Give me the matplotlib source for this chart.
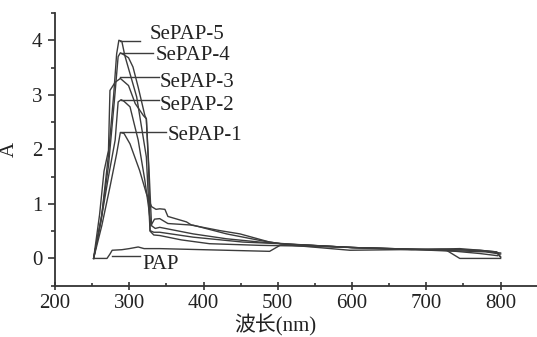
import matplotlib
matplotlib.use("Agg")
import matplotlib.pyplot as plt
from matplotlib.ticker import MultipleLocator

plt.rcParams['font.family'] = ['Liberation Serif', 'Noto Sans CJK SC']

# UV-Vis absorption spectra (wavelength in nm, absorbance A)
wl_pap = [252, 270, 274, 277, 290, 300, 312, 320, 341, 400, 489, 503, 530, 600, 680, 727, 745, 800]
a_pap = [0.0, 0.0, 0.08, 0.15, 0.16, 0.18, 0.21, 0.18, 0.18, 0.16, 0.13, 0.24, 0.25, 0.20, 0.17, 0.15, 0.0, 0.0]

wl_s1 = [252, 263, 274, 283, 288, 293, 301, 314, 323, 330, 336, 341, 348, 352, 377, 384,
         422, 449, 489, 520, 597, 660, 720, 772, 794, 800]
a_s1 = [0.0, 0.60, 1.31, 1.92, 2.31, 2.29, 2.10, 1.61, 1.19, 0.95, 0.90, 0.91, 0.90, 0.77, 0.67, 0.61,
        0.51, 0.45, 0.30, 0.24, 0.15, 0.16, 0.17, 0.15, 0.12, 0.02]

wl_s2 = [252, 262, 272, 281, 285, 289, 293, 301, 312, 321, 326, 329, 334, 341, 352, 386,
         431, 476, 503, 530, 600, 670, 740, 772, 796]
a_s2 = [0.0, 0.70, 1.50, 2.17, 2.87, 2.91, 2.88, 2.78, 2.17, 1.43, 0.94, 0.60, 0.72, 0.73, 0.64, 0.61,
        0.45, 0.33, 0.27, 0.25, 0.20, 0.17, 0.13, 0.09, 0.05]

wl_s3 = [252, 260, 266, 272, 274, 281, 288, 299, 308, 319, 323, 327, 330, 335, 341, 386,
         431, 476, 520, 600, 680, 745, 772, 795, 800]
a_s3 = [0.0, 0.80, 1.60, 1.98, 3.08, 3.23, 3.30, 3.17, 2.84, 2.62, 2.56, 1.50, 0.60, 0.55, 0.57, 0.45,
        0.36, 0.30, 0.26, 0.20, 0.16, 0.18, 0.15, 0.12, 0.03]

wl_s4 = [252, 262, 272, 280, 285, 288, 292, 299, 305, 312, 321, 323, 326, 328, 333, 341,
         386, 453, 503, 540, 600, 680, 745, 780, 800]
a_s4 = [0.0, 0.70, 1.70, 2.90, 3.70, 3.77, 3.74, 3.68, 3.51, 3.14, 2.62, 2.56, 1.68, 0.51, 0.48, 0.48,
        0.39, 0.30, 0.27, 0.24, 0.20, 0.17, 0.16, 0.13, 0.10]

wl_s5 = [252, 263, 272, 279, 283, 286, 290, 294, 310, 323, 328, 333, 341, 370, 408, 476,
         520, 600, 680, 740, 780, 800]
a_s5 = [0.0, 0.80, 1.90, 3.00, 3.75, 4.00, 3.98, 3.72, 2.96, 1.86, 0.50, 0.43, 0.42, 0.34, 0.27, 0.24,
        0.23, 0.20, 0.17, 0.14, 0.12, 0.08]

series = [
    (wl_pap, a_pap), (wl_s1, a_s1), (wl_s2, a_s2),
    (wl_s3, a_s3), (wl_s4, a_s4), (wl_s5, a_s5),
]

# curve labels: text, text x, text baseline y, leader start x, leader end x, leader y
labels = ["SePAP-5", "SePAP-4", "SePAP-3", "SePAP-2", "SePAP-1", "PAP"]
label_x = [328, 335, 341, 341, 352, 317]
label_y = [4.03, 3.64, 3.15, 2.72, 2.17, -0.19]
leader_x0 = [288, 289, 288, 289, 289, 277]
leader_x1 = [314, 332, 340, 340, 350, 315]
leader_y = [3.98, 3.77, 3.32, 2.91, 2.31, 0.05]

line_color = '#3c3c3c'
text_color = '#222222'

fig = plt.figure(figsize=(5.37, 3.37), dpi=100)
ax = fig.add_axes([55 / 537, 1 - 285.7 / 337, 1 - 55 / 537, (285.7 - 13) / 337])

for wl, a in series:
    ax.plot(wl, a, color=line_color, lw=1.0)

for t, tx, ty, x0, x1, ly in zip(labels, label_x, label_y, leader_x0, leader_x1, leader_y):
    ax.plot([x0, x1], [ly, ly], color=line_color, lw=1.0)
    ax.text(tx, ty, t, fontsize=15, color=text_color, ha='left', va='baseline')

ax.set_xlim(200, 849)
ax.set_ylim(-0.5, 4.5)

ax.spines['top'].set_visible(False)
ax.spines['right'].set_visible(False)
for s in ('left', 'bottom'):
    ax.spines[s].set_color('#333333')
    ax.spines[s].set_linewidth(1.3)

ax.xaxis.set_major_locator(MultipleLocator(100))
ax.xaxis.set_minor_locator(MultipleLocator(50))
ax.yaxis.set_major_locator(MultipleLocator(1))
ax.yaxis.set_minor_locator(MultipleLocator(0.5))

ax.tick_params(axis='x', which='major', direction='inout', length=6, width=1.2,
               colors='#333333', labelcolor=text_color, labelsize=15, pad=3)
ax.tick_params(axis='x', which='minor', direction='in', length=2.5, width=1.2, colors='#333333')
ax.tick_params(axis='y', which='major', direction='out', length=5, width=1.2,
               colors='#333333', labelcolor=text_color, labelsize=15, pad=4)
ax.tick_params(axis='y', which='minor', direction='out', length=3, width=1.2, colors='#333333')

ax.set_xticks([200, 300, 400, 500, 600, 700, 800])
ax.set_yticks([0, 1, 2, 3, 4])

ax.set_xlabel('波长(nm)', fontsize=15, color=text_color,
              family=['Liberation Serif', 'Noto Sans CJK SC'])
ax.xaxis.set_label_coords(0.456, -0.105)
ax.set_ylabel('A', fontsize=15, color=text_color)
ax.yaxis.set_label_coords(-0.075, 0.5)

fig.savefig('out.png', dpi=100)
